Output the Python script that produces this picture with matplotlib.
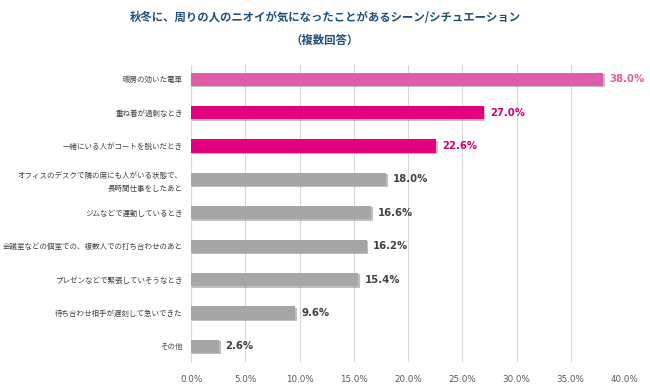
import matplotlib
matplotlib.use("Agg")
import matplotlib.pyplot as plt
import matplotlib.patheffects as pe

plt.rcParams['font.family'] = ['Noto Sans CJK JP', 'DejaVu Sans']

categories = [
    "暖房の効いた電車",
    "重ね着が過剰なとき",
    "一緒にいる人がコートを脱いだとき",
    "オフィスのデスクで隣の席にも人がいる状態で、\n長時間仕事をしたあと",
    "ジムなどで運動しているとき",
    "会議室などの個室での、複数人での打ち合わせのあと",
    "プレゼンなどで緊張していそうなとき",
    "待ち合わせ相手が遅刻して急いできた",
    "その他",
]
values = [38.0, 27.0, 22.6, 18.0, 16.6, 16.2, 15.4, 9.6, 2.6]
xticks = [0, 5, 10, 15, 20, 25, 30, 35, 40]

bar_colors = ["#E05CA8", "#E2007E", "#E2007E"] + ["#A6A6A6"] * 6
label_colors = ["#E05CA8", "#D0006F", "#D0006F"] + ["#404040"] * 6

fig = plt.figure(figsize=(6.5, 3.86), dpi=100)
ax = fig.add_axes([0.294, 0.062, 0.6675, 0.770])

ys = list(range(len(categories)))
shadow = [pe.SimplePatchShadow(offset=(1, -1), alpha=0.25, shadow_rgbFace='#000000'), pe.Normal()]
bars = ax.barh(ys, values, height=0.40, color=bar_colors, zorder=3)
for b in bars:
    b.set_path_effects(shadow)

for y, v, c in zip(ys, values, label_colors):
    ax.annotate(f"{v:.1f}%", (v, y), xytext=(4.5, 0), textcoords='offset points',
                va='center', ha='left', fontsize=7.3, fontweight='bold', color=c,
                family=['DejaVu Sans'])

ax.set_ylim(8.47, -0.43)
ax.set_xlim(0, 40)
ax.set_xticks(xticks)
ax.set_xticklabels([f"{t:.1f}%" for t in xticks], fontsize=6.3, color="#595959",
                   family=['DejaVu Sans'])
ax.set_yticks(ys)
ax.set_yticklabels(categories, fontsize=5.4, color="#404040", linespacing=1.8)
ax.tick_params(axis='both', length=0)
ax.tick_params(axis='x', pad=9)
ax.tick_params(axis='y', pad=6)
ax.grid(axis='x', color="#D9D9D9", linewidth=0.8, zorder=0)
for s in ['top', 'right', 'bottom']:
    ax.spines[s].set_visible(False)
ax.spines['left'].set_color("#D9D9D9")
ax.spines['left'].set_linewidth(0.8)

fig.text(0.5, 0.955, "秋冬に、周りの人のニオイが気になったことがあるシーン/シチュエーション",
         ha='center', va='center', fontsize=8.2, fontweight='bold', color="#1F4E79")
fig.text(0.5, 0.895, "（複数回答）", ha='center', va='center', fontsize=8.2,
         fontweight='bold', color="#1F4E79")

fig.savefig("out.png", dpi=100)
